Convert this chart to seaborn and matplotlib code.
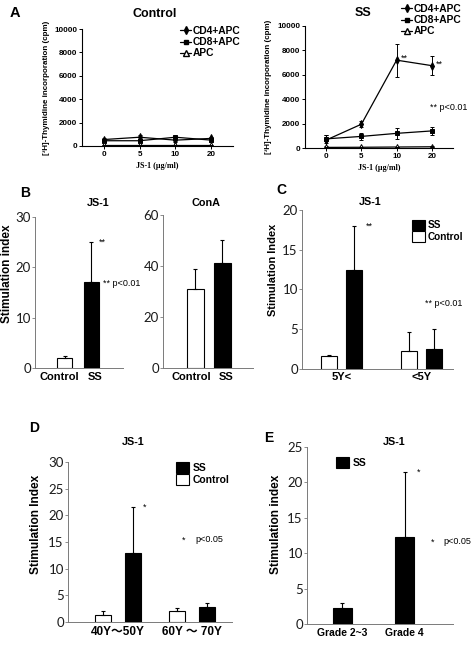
import numpy as np
import pandas as pd
import matplotlib
matplotlib.use('Agg')
import matplotlib.pyplot as plt
import matplotlib.transforms as mtransforms
import seaborn as sns
from matplotlib.lines import Line2D
from matplotlib.patches import Patch

sns.set_theme(style='white')
plt.rcParams['font.family'] = ['Liberation Sans', 'DejaVu Sans']
for k in ['text.color', 'axes.labelcolor', 'xtick.color', 'ytick.color']:
    plt.rcParams[k] = 'black'

W, H = 475, 645
LIGHT = ['Lato', 'Liberation Sans']
CJK = ['Liberation Sans', 'Noto Sans CJK JP']

# ── Data ───────────────────────────────────────────────────────────
doses = ['0', '5', '10', '20']
ctl_cd4 = [550, 750, 500, 650]
ctl_cd4_err = [150, 150, 150, 150]
ctl_cd8 = [450, 450, 750, 500]
ctl_cd8_err = [120, 120, 120, 120]
ctl_apc = [60, 60, 60, 60]
ctl_apc_err = [30, 30, 30, 30]

ss_cd4 = [650, 1950, 7200, 6750]
ss_cd4_err = [450, 250, 1350, 800]
ss_cd8 = [750, 950, 1200, 1400]
ss_cd8_err = [350, 300, 450, 350]
ss_apc = [50, 60, 80, 100]
ss_apc_err = [30, 30, 30, 30]

b_groups = ['Control', 'SS']
b_js1 = [2.0, 17.0]
b_js1_err = [0.4, 8.0]
b_cona = [31.0, 41.0]
b_cona_err = [8.0, 9.0]

c_groups = ['5Y<', '<5Y']
c_ctl = [1.6, 2.3]
c_ctl_err = [0.1, 2.4]
c_ss = [12.5, 2.5]
c_ss_err = [5.5, 2.5]

d_groups = ['40Y\uff5e50Y', '60Y \uff5e 70Y']
d_ctl = [1.3, 2.0]
d_ctl_err = [0.7, 0.6]
d_ss = [13.0, 2.9]
d_ss_err = [8.5, 0.7]

e_groups = ['Grade 2~3', 'Grade 4']
e_ss = [2.3, 12.3]
e_ss_err = [0.6, 9.2]

fig = plt.figure(figsize=(W / 100, H / 100), dpi=100)


def ax_px(l, t, r, b):
    return fig.add_axes([l / W, 1 - b / H, (r - l) / W, (b - t) / H])


def ftext(x, y, s, **kw):
    kw.setdefault('va', 'center')
    kw.setdefault('ha', 'left')
    fig.text(x / W, 1 - y / H, s, **kw)


def label_px(ax, x, y=None):
    # x = figure pixel of the right edge of the rotated y label, y = its centre
    bb = ax.get_position()
    fy = 0.5 if y is None else ((1 - y / H) - bb.y0) / bb.height
    ax.yaxis.set_label_coords((x - bb.x0 * W) / (bb.width * W), fy)


def shift_labels(labels, dxs):
    for t, dx in zip(labels, dxs):
        t.set_transform(t.get_transform() +
                        mtransforms.ScaledTranslation(dx / 100, 0, fig.dpi_scale_trans))


# ── Panel A ────────────────────────────────────────────────────────
def line_panel(ax, cd4, cd4e, cd8, cd8e, apc, apce, ylab_x):
    pos = np.arange(len(doses))
    series = [(cd4, cd4e, 'd', 'black', 3.8),
              (cd8, cd8e, 's', 'black', 3.2),
              (apc, apce, '^', 'white', 3.8)]
    for vals, errs, mk, fc, ms in series:
        sns.lineplot(x=pos, y=vals, ax=ax, color='black', linewidth=0.9,
                     marker=mk, markersize=ms, markerfacecolor=fc,
                     markeredgecolor='black', markeredgewidth=0.7)
        ax.errorbar(pos, vals, yerr=errs, fmt='none', ecolor='black',
                    elinewidth=0.7, capsize=1.3, capthick=0.7)
    ax.set_xlim(-0.6, 3.6)
    ax.set_ylim(0, 10000)
    ax.set_xticks(pos)
    ax.set_xticklabels(doses)
    ax.set_yticks([0, 2000, 4000, 6000, 8000, 10000])
    for s in ['top', 'right']:
        ax.spines[s].set_visible(False)
    for s in ['left', 'bottom']:
        ax.spines[s].set_color('black')
        ax.spines[s].set_linewidth(0.8)
    ax.tick_params(axis='both', length=2, width=0.7, color='black', pad=1.5,
                   labelsize=5.8, left=True, bottom=True)
    for t in ax.get_xticklabels() + ax.get_yticklabels():
        t.set_fontweight('bold')
    ax.set_xlabel('JS-1 (\u03bcg/ml)', family='Liberation Serif',
                  fontweight='bold', fontsize=5.8, labelpad=3)
    ax.set_ylabel('[\u00b3H]-Thymidine incorporation (cpm)', fontsize=5.8,
                  fontweight='bold')
    label_px(ax, ylab_x)


def line_legend(ax, x, y):
    handles = [Line2D([], [], color='black', lw=0.9, marker='d', ms=3.8,
                      mfc='black', mec='black'),
               Line2D([], [], color='black', lw=0.9, marker='s', ms=3.2,
                      mfc='black', mec='black'),
               Line2D([], [], color='black', lw=0.9, marker='^', ms=3.8,
                      mfc='white', mec='black')]
    ax.legend(handles, ['CD4+APC', 'CD8+APC', 'APC'], loc='upper left',
              bbox_to_anchor=(x / W, 1 - y / H), bbox_transform=fig.transFigure,
              frameon=False, prop={'weight': 'bold', 'size': 7.4},
              handlelength=1.1, handletextpad=0.15, labelspacing=0.12,
              borderpad=0, borderaxespad=0)


axc = ax_px(82, 29, 233, 146)
line_panel(axc, ctl_cd4, ctl_cd4_err, ctl_cd8, ctl_cd8_err, ctl_apc, ctl_apc_err, 50)
line_legend(axc, 180, 26)
ftext(155, 14, 'Control', ha='center', fontweight='bold', fontsize=9)
ftext(10, 13, 'A', fontweight='bold', fontsize=10.5)

axs = ax_px(305, 26, 453, 148)
line_panel(axs, ss_cd4, ss_cd4_err, ss_cd8, ss_cd8_err, ss_apc, ss_apc_err, 272)
line_legend(axs, 401, 4)
ftext(363, 13, 'SS', ha='center', fontweight='bold', fontsize=9)
for i in [2, 3]:
    axs.text(i + 0.12, ss_cd4[i] + 150, '**', fontsize=6.5, va='center')
ftext(430, 107, '** p<0.01', fontsize=6.5)


# ── Bar helpers ────────────────────────────────────────────────────
def style_bar_ax(ax, ylim, yticks, ylab=None, ylab_x=None, ylab_y=None,
                 ylab_size=8, xpad=3):
    ax.set_ylim(*ylim)
    ax.set_yticks(yticks)
    for s in ['top', 'right']:
        ax.spines[s].set_visible(False)
    for s in ['left', 'bottom']:
        ax.spines[s].set_color('#7a7a7a')
        ax.spines[s].set_linewidth(0.7)
    ax.tick_params(axis='y', length=2, width=0.6, color='#7a7a7a', pad=1,
                   labelsize=9.5, left=True, labelcolor='#1a1a1a')
    ax.tick_params(axis='x', length=0, pad=xpad, labelcolor='black')
    for t in ax.get_yticklabels():
        t.set_family(LIGHT)
        t.set_fontweight('normal')
    ax.set_xlabel('')
    if ylab:
        ax.set_ylabel(ylab, fontsize=ylab_size, fontweight='bold')
        label_px(ax, ylab_x, ylab_y)
    else:
        ax.set_ylabel('')


def add_err(ax, errs):
    for p in ax.patches:
        cx = p.get_x() + p.get_width() / 2
        i = int(round(cx))
        key = 'SS' if p.get_facecolor()[0] < 0.5 else 'Control'
        e = errs[key][i]
        ax.errorbar(cx, p.get_height(), yerr=[[0], [e]], fmt='none',
                    ecolor='black', elinewidth=0.8, capsize=1.5, capthick=0.8)


def bar_legend(ax, x, y, labels, size=7.2):
    colors = {'SS': 'black', 'Control': 'white'}
    handles = [Patch(facecolor=colors[l], edgecolor='black', linewidth=0.8)
               for l in labels]
    ax.legend(handles, labels, loc='upper left',
              bbox_to_anchor=(x / W, 1 - y / H), bbox_transform=fig.transFigure,
              frameon=False, prop={'weight': 'bold', 'size': size},
              handlelength=1.25, handleheight=1.2, handletextpad=0.35,
              labelspacing=0.1, borderpad=0, borderaxespad=0)


pal = {'Control': 'white', 'SS': 'black'}

# ── Panel B ────────────────────────────────────────────────────────
axb1 = ax_px(35, 217, 123, 368)
sns.barplot(x=b_groups, y=b_js1, hue=b_groups, palette=pal, legend=False,
            edgecolor='black', linewidth=0.8, width=0.57, errorbar=None, ax=axb1)
add_err(axb1, {'Control': [b_js1_err[0]] * 2, 'SS': [b_js1_err[1]] * 2})
axb1.set_xlim(-1.11, 2.2)
style_bar_ax(axb1, (0, 30), [0, 10, 20, 30], 'Stimulation index', 13, 274,
             ylab_size=8.5, xpad=3)
for t in axb1.get_xticklabels():
    t.set_fontweight('bold')
    t.set_fontsize(8)
shift_labels(axb1.get_xticklabels(), [-5, 4])
axb1.text(1.28, b_js1[1] + b_js1_err[1], '**', fontsize=6.5, va='center')
ftext(103, 283, '** p<0.01', fontsize=6.5)
ftext(98, 203, 'JS-1', ha='center', fontweight='bold', fontsize=7.8)
ftext(20, 193, 'B', fontweight='bold', fontsize=10)

axb2 = ax_px(163, 215, 253, 368)
sns.barplot(x=b_groups, y=b_cona, hue=b_groups, palette=pal, legend=False,
            edgecolor='black', linewidth=0.8, width=0.62, errorbar=None, ax=axb2)
add_err(axb2, {'Control': [b_cona_err[0]] * 2, 'SS': [b_cona_err[1]] * 2})
axb2.set_xlim(-1.2, 2.13)
style_bar_ax(axb2, (0, 60), [0, 20, 40, 60], xpad=3)
for t in axb2.get_xticklabels():
    t.set_fontweight('bold')
    t.set_fontsize(8)
shift_labels(axb2.get_xticklabels(), [-4, 4])
ftext(206, 203, 'ConA', ha='center', fontweight='bold', fontsize=7.8)

# ── Panel C ────────────────────────────────────────────────────────
dfc = pd.DataFrame({'group': c_groups * 2,
                    'subject': ['Control'] * 2 + ['SS'] * 2,
                    'si': c_ctl + c_ss})
axc2 = ax_px(302, 210, 453, 369)
sns.barplot(data=dfc, x='group', y='si', hue='subject', hue_order=['Control', 'SS'],
            palette=pal, legend=False, edgecolor='black', linewidth=0.8,
            width=0.63, gap=0.36, errorbar=None, ax=axc2)
add_err(axc2, {'Control': c_ctl_err, 'SS': c_ss_err})
axc2.set_xlim(-0.5, 1.4)
style_bar_ax(axc2, (0, 20), [0, 5, 10, 15, 20], 'Stimulation Index', 278, 270,
             ylab_size=7.9, xpad=2)
for t in axc2.get_xticklabels():
    t.set_fontweight('bold')
    t.set_fontsize(8)
bar_legend(axc2, 412, 220, ['SS', 'Control'])
axc2.text(0.3, c_ss[0] + c_ss_err[0], '**', fontsize=6.5, va='center')
ftext(425, 304, '** p<0.01', fontsize=6.5)
ftext(370, 202, 'JS-1', ha='center', fontweight='bold', fontsize=7.8)
ftext(276, 190, 'C', fontweight='bold', fontsize=10)

# ── Panel D ────────────────────────────────────────────────────────
dfd = pd.DataFrame({'group': d_groups * 2,
                    'subject': ['Control'] * 2 + ['SS'] * 2,
                    'si': d_ctl + d_ss})
axd = ax_px(68, 462, 232, 622)
sns.barplot(data=dfd, x='group', y='si', hue='subject', hue_order=['Control', 'SS'],
            palette=pal, legend=False, edgecolor='black', linewidth=0.8,
            width=0.8, gap=0.46, errorbar=None, ax=axd)
add_err(axd, {'Control': d_ctl_err, 'SS': d_ss_err})
axd.set_xlim(-0.68, 1.54)
style_bar_ax(axd, (0, 30), [0, 5, 10, 15, 20, 25, 30], 'Stimulation Index', 42, 524,
             ylab_size=8.6, xpad=3)
for t in axd.get_xticklabels():
    t.set_family(CJK)
    t.set_fontweight('bold')
    t.set_fontsize(8.5)
bar_legend(axd, 176, 462, ['SS', 'Control'], size=7.5)
axd.text(0.33, d_ss[0] + d_ss_err[0], '*', fontsize=6.5, va='center')
ftext(182, 540, '*', fontsize=6.5)
ftext(195, 540, 'p<0.05', fontsize=6.5)
ftext(133, 442, 'JS-1', ha='center', fontweight='bold', fontsize=7.8)
ftext(29, 428, 'D', fontweight='bold', fontsize=10)

# ── Panel E ────────────────────────────────────────────────────────
axe = ax_px(307, 447, 453, 624)
sns.barplot(x=e_groups, y=e_ss, color='black', edgecolor='black', linewidth=0.8,
            width=0.31, errorbar=None, ax=axe)
add_err(axe, {'SS': e_ss_err, 'Control': e_ss_err})
axe.set_xlim(-0.57, 1.78)
style_bar_ax(axe, (0, 25), [0, 5, 10, 15, 20, 25], 'Stimulation index', 282, 524,
             ylab_size=8.6, xpad=3)
for t in axe.get_xticklabels():
    t.set_fontweight('bold')
    t.set_fontsize(7.5)
bar_legend(axe, 336, 457, ['SS'], size=7.5)
axe.text(1.2, e_ss[1] + e_ss_err[1], '*', fontsize=6.5, va='center')
ftext(431, 542, '*', fontsize=6.5)
ftext(443, 542, 'p<0.05', fontsize=6.5)
ftext(394, 442, 'JS-1', ha='center', fontweight='bold', fontsize=7.8)
ftext(264, 438, 'E', fontweight='bold', fontsize=10)

fig.savefig('out.png', dpi=100, facecolor='white')
